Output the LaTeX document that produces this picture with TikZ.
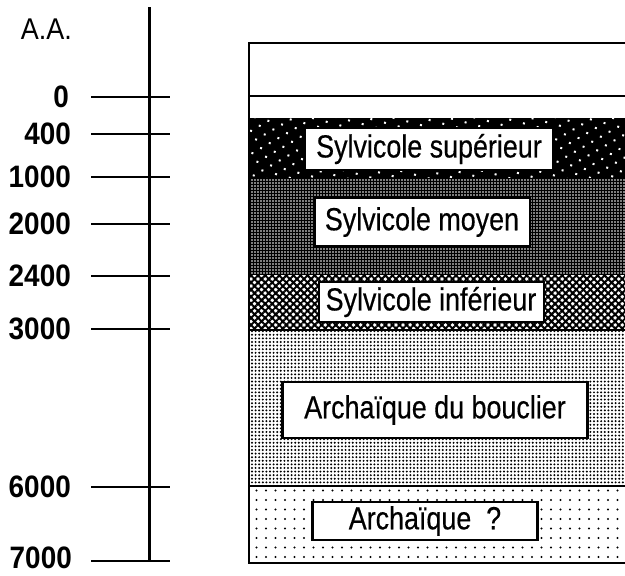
\documentclass[tikz,border=0pt]{standalone}
\usepackage{fontspec}
\setmainfont{Liberation Sans}
\newfontfamily\layerfont{Liberation Sans}[FakeStretch=0.84, FakeBold=0.4]
\newfontfamily\agefont{Liberation Sans}[FakeStretch=0.9]
\usetikzlibrary{patterns.meta}

\begin{document}
\begin{tikzpicture}[x=1pt, y=-1pt,
  axis/.style={line width=3pt},
  tick/.style={line width=2.6pt},
  agelabel/.style={anchor=east, inner sep=0pt, font=\fontsize{31}{33}\agefont\bfseries},
  layer/.style={draw, line width=2pt, fill=white, inner sep=0pt,
                font=\fontsize{32}{34}\layerfont},
  frame/.style={line width=2pt},
]

\useasboundingbox (0,0) rectangle (625,576);
\clip (0,0) rectangle (625,576);

% === Age axis ===
\node[anchor=east, inner sep=0pt, font=\fontsize{30}{32}\agefont] (aa) at (72,29) {A.A.};
\draw[axis] (149,7) -- (149,561);

\draw[tick] (91,97) -- (170,97);
\node[agelabel] (t0) at (69,97) {0};
\draw[tick] (91,134) -- (170,134);
\node[agelabel] (t400) at (71,134) {400};
\draw[tick] (91,177) -- (170,177);
\node[agelabel] (t1000) at (71,177) {1000};
\draw[tick] (91,224) -- (170,224);
\node[agelabel] (t2000) at (71,224) {2000};
\draw[tick] (91,276) -- (170,276);
\node[agelabel] (t2400) at (71,276) {2400};
\draw[tick] (91,329) -- (170,329);
\node[agelabel] (t3000) at (71,329) {3000};
\draw[tick] (91,487) -- (170,487);
\node[agelabel] (t6000) at (71,487) {6000};
\draw[tick] (91,561) -- (170,561);
\node[agelabel] (t7000) at (72,558) {7000};

% === Layers ===
% Sylvicole superieur: black with white dots
\fill[black] (249,118) rectangle (630,178);
\fill[pattern={Dots[distance=10pt, radius=1.4pt, angle=30]}, pattern color=white]
  (249,118) rectangle (630,178);

% Sylvicole moyen: fine dark screen
\fill[black] (249,178) rectangle (630,275);
\fill[pattern={Dots[distance=3pt, radius=0.8pt]}, pattern color=white]
  (249,178) rectangle (630,275);

% Sylvicole inferieur: coarse crosshatch
\fill[pattern={Hatch[angle=45, distance=5pt, line width=2pt]}, pattern color=black]
  (249,275) rectangle (630,330);

% Archaique du bouclier: dense dots
\fill[pattern={Dots[distance=3.6pt, radius=1.1pt]}, pattern color=black]
  (249,330) rectangle (630,486);

% Archaique ?: sparse dots
\fill[pattern={Dots[distance=9.5pt, radius=1.1pt]}, pattern color=black]
  (249,486) rectangle (630,563);

% Frame and dividing lines
\draw[frame] (630,43) -- (249,43) -- (249,563) -- (630,563);
\draw[frame] (249,96) -- (630,96);
\draw[line width=1.2pt] (249,330) -- (630,330);
\draw[line width=1.5pt] (249,486) -- (630,486);

% === Layer labels ===
\node[layer, minimum width=248pt, minimum height=42pt] (sup) at (429,149) {Sylvicole supérieur};
\node[layer, minimum width=215pt, minimum height=48pt] (moy) at (422,222) {Sylvicole moyen};
\node[layer, minimum width=225pt, minimum height=40pt] (inf) at (431,302) {Sylvicole inférieur};
\node[layer, line width=2.5pt, minimum width=305pt, minimum height=56pt] (bouc) at (435,410) {Archaïque du bouclier};
\node[layer, line width=2.5pt, minimum width=225pt, minimum height=38pt] (arch) at (425,521) {Archaïque~~?};

\end{tikzpicture}
\end{document}
